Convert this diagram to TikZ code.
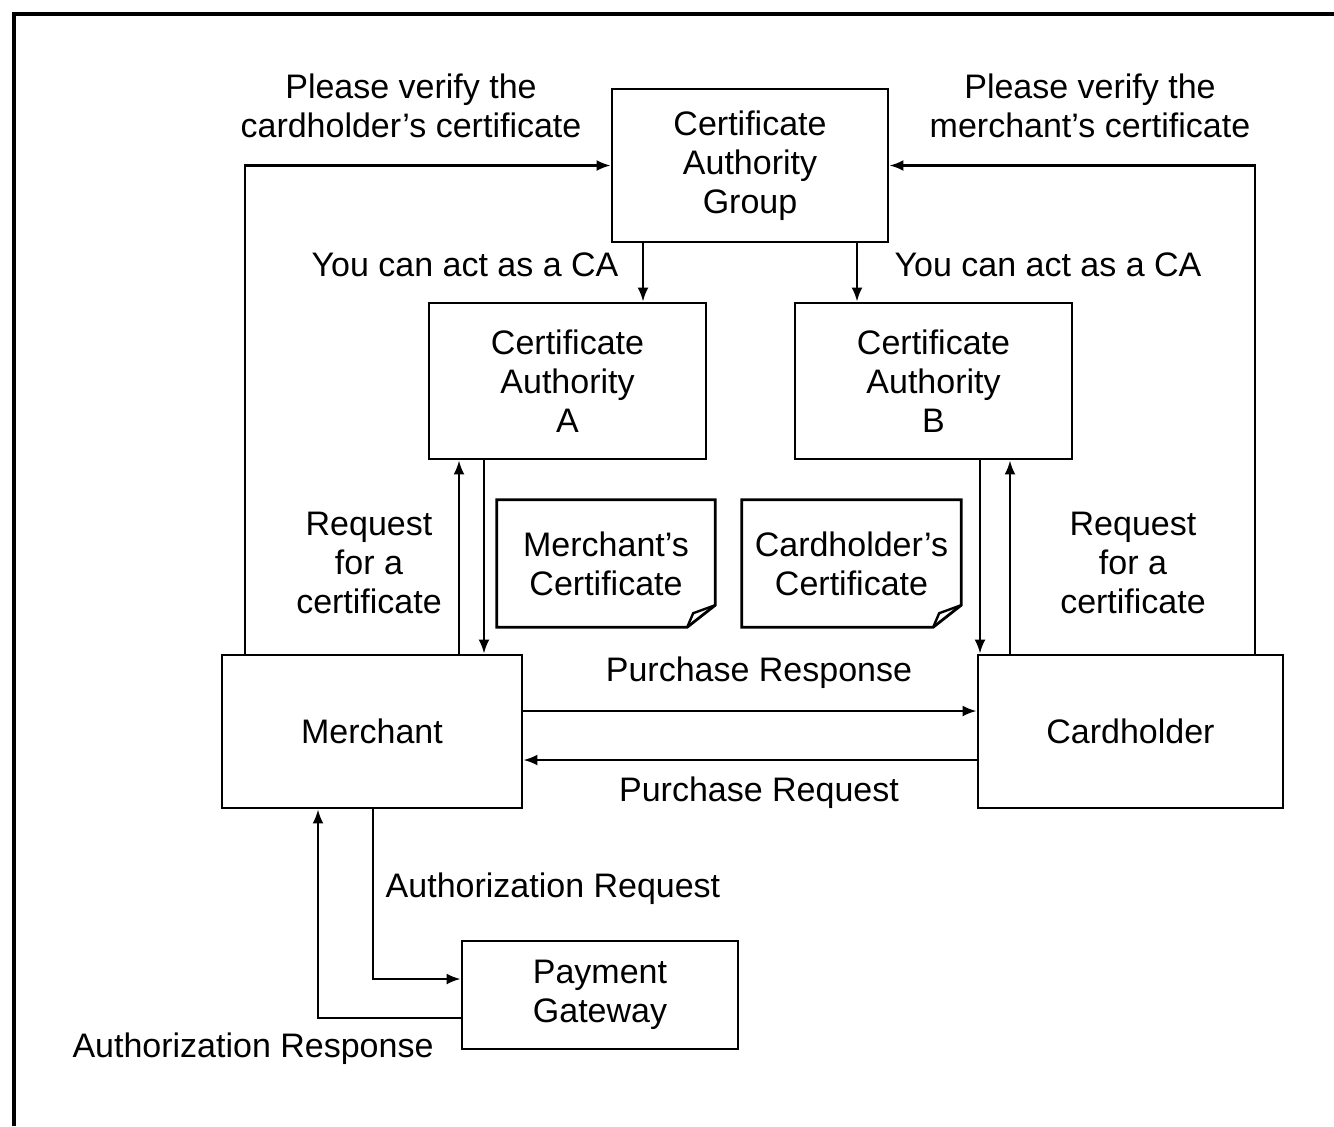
\documentclass[tikz,border=0pt]{standalone}
\usepackage{fontspec}
\setmainfont{Liberation Sans}
\usetikzlibrary{arrows.meta}
\begin{document}
\begin{tikzpicture}[x=0.5pt,y=-0.5pt,
  line width=1.2pt,
  font=\fontsize{17}{19.5}\selectfont,
  box/.style={draw,line width=1.4pt,align=center,inner sep=0pt},
  docbox/.style={align=center,inner sep=0pt},
  lab/.style={align=center,inner sep=0pt},
  arr/.style={-{Latex[length=7pt,width=5.5pt]}}]
\useasboundingbox (0,0) rectangle (1334,1126);
\draw[line width=2.2pt] (14,1126) -- (14,14) -- (1334,14);

% main boxes
\node[box,minimum width=138pt,minimum height=76.5pt] (cag) at (750,165.5) {Certificate\\Authority\\Group};
\node[box,minimum width=138.5pt,minimum height=78pt] (caa) at (567.5,381) {Certificate\\Authority\\A};
\node[box,minimum width=138.5pt,minimum height=78pt] (cab) at (933.5,381) {Certificate\\Authority\\B};
\node[box,minimum width=150pt,minimum height=76.5pt] (mer) at (372,731.5) {Merchant};
\node[box,minimum width=152.5pt,minimum height=76.5pt] (card) at (1130.5,731.5) {Cardholder};
\node[box,minimum width=138pt,minimum height=54pt] (pg) at (600,995) {Payment\\Gateway};

% documents
\node[docbox,minimum width=108pt,minimum height=62.5pt] (mdoc) at (606,563.5) {Merchant's\\Certificate};
\node[docbox,minimum width=108.5pt,minimum height=62.5pt] (cdoc) at (851.5,563.5) {Cardholder's\\Certificate};
\foreach \d in {mdoc,cdoc}{
  \draw[line width=1.4pt] (\d.north west) -- (\d.north east) -- ([yshift=11pt]\d.south east)
    -- ([xshift=-14pt]\d.south east) -- (\d.south west) -- cycle;
  \draw[line width=1.2pt] ([xshift=-14pt]\d.south east) -- ([xshift=-11pt,yshift=7pt]\d.south east)
    -- ([yshift=11pt]\d.south east);
}

% helper coordinates
\coordinate (xa) at (245,0);
\coordinate (xb) at (1255,0);
\coordinate (xc) at (643,0);
\coordinate (xd) at (857,0);
\coordinate (xe) at (459,0);
\coordinate (xf) at (484,0);
\coordinate (xg) at (980,0);
\coordinate (xh) at (1010,0);
\coordinate (xi) at (373,0);
\coordinate (xj) at (318,0);
\coordinate (ya) at (0,711);
\coordinate (yb) at (0,760);
\coordinate (yc) at (0,979);
\coordinate (yd) at (0,1018);

% connectors
\draw[arr] (mer.north -| xa) |- (cag.west);
\draw[arr] (card.north -| xb) |- (cag.east);
\draw[arr] (cag.south -| xc) -- (caa.north -| xc);
\draw[arr] (cag.south -| xd) -- (cab.north -| xd);
\draw[arr] (mer.north -| xe) -- (caa.south -| xe);
\draw[arr] (caa.south -| xf) -- (mer.north -| xf);
\draw[arr] (cab.south -| xg) -- (card.north -| xg);
\draw[arr] (card.north -| xh) -- (cab.south -| xh);
\draw[arr] (mer.east |- ya) -- (card.west |- ya);
\draw[arr] (card.west |- yb) -- (mer.east |- yb);
\draw[arr] (mer.south -| xi) |- (pg.west |- yc);
\draw[arr] (pg.west |- yd) -| (mer.south -| xj);

% labels
\node[lab] (l1) at (411,106) {Please verify the\\cardholder's certificate};
\node[lab] (l2) at (1090,106) {Please verify the\\merchant's certificate};
\node[lab] (l3) at (465,265) {You can act as a CA};
\node[lab] (l4) at (1048,265) {You can act as a CA};
\node[lab] (l5) at (369,563) {Request\\for a\\certificate};
\node[lab] (l6) at (1133,563) {Request\\for a\\certificate};
\node[lab] (l7) at (759,673) {Purchase Response};
\node[lab] (l8) at (759,793) {Purchase Request};
\node[lab] (l9) at (553,889) {Authorization Request};
\node[lab] (l10) at (253,1049) {Authorization Response};
\end{tikzpicture}
\end{document}
